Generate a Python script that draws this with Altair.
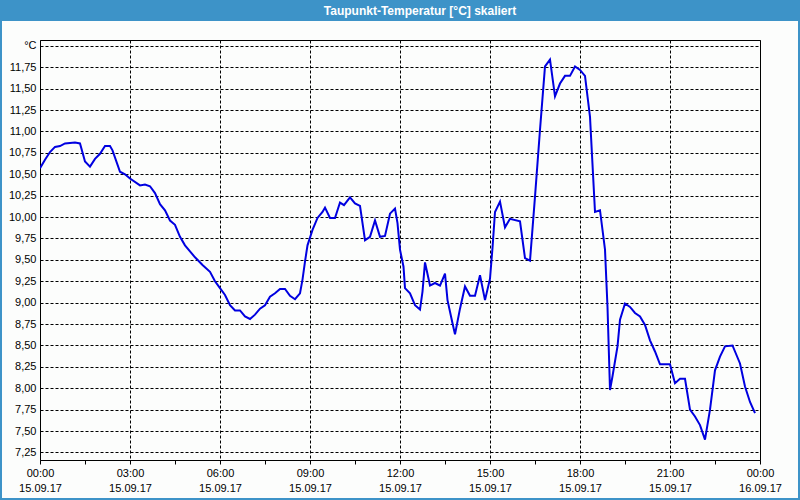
import altair as alt
import pandas as pd

# --- data ---
times = ["00:00", "00:10", "00:20", "00:30", "00:40", "00:50", "01:10", "01:20", "01:30", "01:40",
         "01:50", "02:00", "02:10", "02:20", "02:25", "02:40", "02:50", "03:00", "03:20", "03:30",
         "03:40", "03:50", "04:00", "04:10", "04:20", "04:30", "04:40", "04:50", "05:00", "05:10",
         "05:25", "05:40", "05:50", "06:00", "06:10", "06:20", "06:30", "06:40", "06:50", "07:00",
         "07:10", "07:20", "07:30", "07:40", "07:50", "08:00", "08:10", "08:20", "08:30", "08:40",
         "08:45", "08:50", "08:55", "09:05", "09:15", "09:25", "09:30", "09:40", "09:50", "10:00",
         "10:08", "10:20", "10:30", "10:40", "10:50", "11:00", "11:10", "11:20", "11:30", "11:40",
         "11:50", "11:55", "12:00", "12:07", "12:10", "12:20", "12:30", "12:40", "12:45", "12:50",
         "13:00", "13:10", "13:20", "13:30", "13:35", "13:45", "13:50", "14:00", "14:10", "14:20",
         "14:30", "14:40", "14:50", "15:00", "15:05", "15:10", "15:20", "15:30", "15:40", "16:00",
         "16:10", "16:20", "16:30", "16:40", "16:50", "17:00", "17:10", "17:20", "17:30", "17:40",
         "17:50", "18:00", "18:10", "18:20", "18:30", "18:40", "18:50", "18:55", "19:00", "19:05",
         "19:15", "19:20", "19:30", "19:40", "19:50", "20:00", "20:10", "20:20", "20:30", "20:40",
         "21:00", "21:10", "21:20", "21:30", "21:40", "21:50", "22:00", "22:10", "22:20", "22:30",
         "22:40", "22:50", "23:05", "23:20", "23:30", "23:40", "23:50"]
values = [10.57, 10.67, 10.76, 10.82, 10.83, 10.86, 10.87, 10.86, 10.65, 10.59,
          10.68, 10.74, 10.83, 10.83, 10.78, 10.53, 10.50, 10.45, 10.37, 10.38,
          10.36, 10.28, 10.15, 10.08, 9.96, 9.91, 9.77, 9.67, 9.60, 9.53,
          9.44, 9.36, 9.25, 9.17, 9.09, 8.97, 8.91, 8.91, 8.84, 8.81,
          8.86, 8.93, 8.97, 9.07, 9.11, 9.16, 9.16, 9.08, 9.04, 9.11,
          9.27, 9.48, 9.67, 9.85, 9.99, 10.06, 10.11, 9.99, 9.99, 10.17,
          10.14, 10.23, 10.16, 10.13, 9.73, 9.77, 9.96, 9.77, 9.78, 10.04,
          10.10, 9.93, 9.62, 9.42, 9.17, 9.11, 8.97, 8.92, 9.13, 9.47,
          9.20, 9.23, 9.20, 9.34, 9.03, 8.76, 8.63, 8.93, 9.19, 9.08,
          9.08, 9.32, 9.03, 9.28, 9.64, 10.06, 10.18, 9.88, 9.98, 9.95,
          9.52, 9.49, 10.24, 11.02, 11.76, 11.84, 11.41, 11.56, 11.65, 11.65,
          11.76, 11.72, 11.65, 11.17, 10.06, 10.08, 9.62, 8.95, 7.98, 8.14,
          8.49, 8.80, 8.99, 8.95, 8.88, 8.84, 8.74, 8.56, 8.43, 8.28,
          8.28, 8.06, 8.11, 8.11, 7.75, 7.67, 7.57, 7.40, 7.75, 8.21,
          8.37, 8.49, 8.50, 8.29, 8.02, 7.84, 7.71]

y_ticks = [7.25, 7.5, 7.75, 8.0, 8.25, 8.5, 8.75, 9.0, 9.25, 9.5, 9.75,
           10.0, 10.25, 10.5, 10.75, 11.0, 11.25, 11.5, 11.75, 12.0]
x_ticks = [0, 1.5, 3, 4.5, 6, 7.5, 9, 10.5, 12, 13.5, 15, 16.5, 18, 19.5, 21, 22.5, 24]
title_text = "Taupunkt-Temperatur [°C] skaliert"

df = pd.DataFrame({"time": times, "value": values})
df["hours"] = [int(t[:2]) + int(t[3:]) / 60 for t in times]

FONT = "Liberation Sans"
BLUE = "#3d93c8"

line = alt.Chart(df).mark_line(color="#0000e0", strokeWidth=2, clip=True).encode(
    x=alt.X("hours:Q",
            scale=alt.Scale(domain=[0, 24], nice=False, zero=False),
            axis=alt.Axis(values=x_ticks, title=None,
                          labelExpr="datum.value % 3 == 0 ? [(datum.value % 24 < 10 ? '0' : '') + (datum.value % 24) + ':00', datum.value >= 24 ? '16.09.17' : '15.09.17'] : ''",
                          grid=True, gridColor="black", gridDash=[3, 2], gridWidth=1,
                          gridOpacity={"condition": {"test": "datum.value % 3 == 0", "value": 1}, "value": 0},
                          tickSize=4, tickColor="black", domainColor="black",
                          labelFont=FONT, labelFontSize=11, labelColor="black",
                          labelPadding=3, labelLineHeight=15, labelFlush=False,
                          labelOverlap=False, labelBound=False, labelBaseline="top")),
    y=alt.Y("value:Q",
            scale=alt.Scale(domain=[7.162, 12.069], nice=False, zero=False),
            axis=alt.Axis(values=y_ticks, title=None,
                          labelExpr="datum.value >= 12 ? '°C' : replace(format(datum.value, '.2f'), '.', ',')",
                          grid=True, gridColor="black", gridDash=[3, 2], gridWidth=1,
                          tickSize=0, domain=False,
                          labelFont=FONT, labelFontSize=11, labelColor="black",
                          labelPadding=4, labelOverlap=False, labelBound=False)),
)

deco = alt.Data(values=[{"k": 1}])

title_bar = alt.Chart(deco).mark_rect(color=BLUE).encode(
    x=alt.value(-40), x2=alt.value(760), y=alt.value(-40), y2=alt.value(-19))

frame = alt.Chart(deco).mark_rect(fillOpacity=0, stroke=BLUE, strokeWidth=2).encode(
    x=alt.value(-39), x2=alt.value(759), y=alt.value(-41), y2=alt.value(459))

title = alt.Chart(deco).mark_text(text=title_text, font=FONT, fontSize=12, fontWeight="bold",
                                   color="white", align="center", baseline="middle").encode(
    x=alt.value(380), y=alt.value(-29.5))

chart = alt.layer(title_bar, frame, title, line).properties(
    width=720, height=420,
    autosize=alt.AutoSizeParams(type="none"),
    padding={"left": 40, "top": 40, "right": 40, "bottom": 40},
    background="#fcfdfc",
).configure_view(stroke="black", strokeWidth=1, fill="#fcfdfc")

chart.save("out.html", embed_options={"renderer": "svg", "actions": False})
